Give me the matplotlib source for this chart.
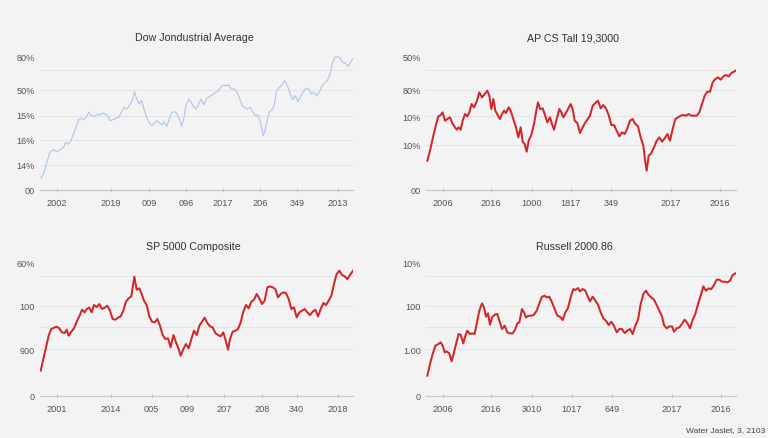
import matplotlib
matplotlib.use("Agg")
import matplotlib.pyplot as plt

plt.rcParams["font.family"] = ["Liberation Sans", "DejaVu Sans"]

W, H = 768, 439
BG = "#f3f3f3"

# ---- Dow (top left) ----
dow_title = "Dow Jondustrial Average"
dow_t = [0.3, 1.2, 2.0, 3.0, 4.0, 5.0, 6.0, 7.0, 7.7, 8.5,
         9.2, 10.0, 10.8, 11.7, 12.5, 13.2, 13.8, 14.6, 15.5, 16.3,
         17.2, 18.0, 18.7, 19.5, 20.2, 21.0, 21.8, 22.8, 23.6, 24.4,
         25.2, 26.0, 26.8, 27.6, 28.4, 29.0, 29.8, 30.5, 31.2, 32.0,
         32.8, 33.6, 34.3, 35.0, 35.8, 36.6, 37.2, 38.0, 38.8, 39.5,
         40.3, 41.0, 41.8, 42.5, 43.2, 43.8, 44.6, 45.4, 46.0, 46.8,
         47.6, 48.3, 49.2, 49.8, 50.5, 51.2, 52.0, 52.8, 53.5, 54.2,
         55.0, 55.8, 56.6, 57.4, 58.2, 59.0, 59.8, 60.6, 61.4, 62.2,
         63.0, 63.8, 64.6, 65.4, 66.0, 66.6, 67.0, 67.5, 68.0, 68.8,
         69.6, 70.2, 71.0, 71.8, 72.6, 73.4, 74.2, 75.0, 75.8, 76.6,
         77.4, 78.2, 79.0, 79.8, 80.6, 81.4, 82.2, 83.0, 83.8, 84.6,
         85.4, 86.2, 87.0, 87.8, 88.5, 89.2, 90.0, 90.8, 91.6, 92.4,
         93.2, 93.9]
dow_v = [6.8, 10.0, 16.4, 22.4, 24.0, 22.8, 24.0, 25.4, 28.4, 27.4,
         28.8, 33.4, 37.4, 42.4, 42.8, 42.0, 43.4, 46.4, 44.4, 44.0,
         45.4, 44.8, 46.0, 45.4, 44.8, 41.4, 42.0, 42.8, 43.4, 46.4,
         49.4, 48.4, 50.4, 53.4, 58.8, 54.4, 51.4, 53.4, 48.4, 43.4,
         40.0, 38.4, 40.0, 41.4, 40.0, 38.8, 40.8, 38.0, 42.4, 46.4,
         46.8, 46.0, 42.4, 38.0, 43.4, 50.4, 54.4, 52.4, 50.0, 48.4,
         51.4, 54.4, 50.8, 54.0, 55.4, 56.4, 57.4, 58.4, 59.4, 61.4,
         62.8, 62.4, 62.8, 60.4, 60.4, 58.8, 55.4, 50.4, 49.4, 48.4,
         49.4, 46.8, 44.4, 44.8, 41.4, 36.4, 32.4, 35.4, 40.4, 46.8,
         48.0, 50.0, 59.4, 61.4, 62.8, 65.4, 62.4, 58.0, 54.0, 56.4,
         52.8, 56.0, 58.8, 60.8, 60.4, 57.4, 58.4, 56.4, 58.8, 62.4,
         64.0, 65.4, 69.4, 76.4, 79.4, 79.8, 79.2, 76.4, 75.8, 74.0,
         76.4, 78.8]
dow_yticks = [0, 15, 30, 45, 60, 80]
dow_ylabels = ["00", "14%", "16%", "15%", "50%", "80%"]
dow_xticks = [5.0, 21.3, 32.7, 43.8, 54.9, 66.0, 77.1, 89.4]
dow_xlabels = ["2002", "2019", "009", "096", "2017", "206", "349", "2013"]

# ---- AP CS (top right) ----
ap_title = "AP CS Tall 19,3000"
ap_t = [0.4, 1.2, 2.2, 3.2, 3.7, 4.4, 5.0, 5.7, 6.4, 7.2,
        8.0, 8.7, 9.2, 9.8, 10.4, 11.0, 11.7, 12.4, 13.0, 13.7,
        14.4, 15.2, 16.0, 16.8, 17.6, 18.4, 19.0, 19.6, 20.2, 20.8,
        21.6, 22.2, 22.8, 23.4, 24.0, 24.8, 25.4, 26.2, 27.0, 27.7,
        28.4, 29.0, 29.6, 30.2, 30.8, 31.6, 32.4, 33.0, 33.6, 34.2,
        35.0, 35.7, 36.4, 37.2, 37.8, 38.4, 39.2, 40.0, 40.6, 41.2,
        41.8, 42.6, 43.4, 44.0, 44.6, 45.4, 46.2, 47.0, 47.8, 48.4,
        49.2, 50.0, 50.8, 51.6, 52.4, 53.2, 54.0, 54.8, 55.6, 56.4,
        57.2, 58.0, 58.8, 59.6, 60.4, 61.2, 62.0, 62.8, 63.6, 64.4,
        65.2, 65.8, 66.2, 66.8, 67.4, 68.4, 69.2, 70.0, 70.8, 71.6,
        72.4, 73.2, 74.0, 74.8, 75.6, 76.4, 77.2, 78.0, 78.8, 79.6,
        80.4, 81.2, 82.0, 82.8, 83.6, 84.4, 85.2, 86.0, 86.8, 87.6,
        88.4, 89.2, 90.0, 90.8, 91.6, 92.4, 93.0]
ap_v = [17.4, 23.4, 32.4, 40.4, 44.0, 44.8, 46.4, 41.4, 42.4, 43.4,
        39.4, 37.4, 36.0, 37.4, 36.0, 41.4, 45.4, 44.0, 46.4, 51.4,
        49.4, 52.8, 58.4, 55.4, 57.4, 59.4, 56.4, 48.4, 54.4, 47.4,
        44.4, 42.4, 45.4, 47.4, 46.0, 49.4, 47.4, 42.4, 37.4, 31.4,
        37.4, 28.8, 27.4, 22.8, 29.4, 32.8, 39.4, 46.4, 52.4, 48.4,
        48.8, 44.8, 40.4, 43.4, 39.4, 36.0, 42.4, 48.4, 46.4, 43.4,
        45.4, 48.4, 51.4, 48.4, 41.4, 40.0, 34.0, 37.4, 40.4, 42.0,
        44.4, 50.4, 52.0, 53.4, 48.8, 50.8, 48.8, 44.8, 38.8, 38.8,
        35.4, 32.0, 34.4, 33.4, 36.8, 41.4, 42.4, 39.4, 38.0, 31.4,
        26.4, 16.4, 11.4, 20.4, 21.4, 25.4, 29.4, 31.4, 28.8, 30.8,
        33.4, 29.4, 36.4, 42.4, 43.4, 44.4, 44.8, 44.4, 45.4, 44.4,
        44.4, 44.4, 46.4, 51.4, 56.4, 58.8, 58.8, 64.4, 66.4, 67.4,
        66.0, 68.0, 68.8, 68.0, 70.0, 70.8, 71.6]
ap_yticks = [0, 27, 44, 60, 80]
ap_ylabels = ["00", "10%", "10%", "80%", "50%"]
ap_xticks = [5.1, 19.5, 31.8, 43.5, 55.5, 73.5, 88.2]
ap_xlabels = ["2006", "2016", "1000", "1817", "349", "2017", "2016"]

# ---- SP (bottom left) ----
sp_title = "SP 5000 Composite"
sp_t = [0.2, 1.0, 1.8, 2.6, 3.4, 4.2, 5.0, 5.8, 6.6, 7.4,
        8.0, 8.6, 9.4, 10.2, 11.0, 11.8, 12.6, 13.4, 14.0, 14.8,
        15.5, 16.2, 17.0, 17.8, 18.6, 19.4, 20.2, 21.0, 21.8, 22.6,
        23.4, 24.2, 25.0, 25.8, 26.6, 27.4, 27.8, 28.3, 29.0, 29.8,
        30.5, 31.2, 32.0, 32.8, 33.6, 34.4, 35.2, 36.0, 36.8, 37.6,
        38.4, 39.2, 40.0, 40.8, 41.6, 42.2, 43.0, 43.8, 44.6, 45.4,
        46.2, 47.0, 47.8, 48.6, 49.4, 50.2, 51.0, 51.8, 52.6, 53.4,
        54.2, 55.0, 55.8, 56.4, 57.0, 57.8, 58.6, 59.4, 60.2, 61.0,
        61.8, 62.6, 63.4, 64.2, 65.0, 65.8, 66.6, 67.4, 68.2, 69.0,
        69.8, 70.6, 71.4, 72.2, 73.0, 73.8, 74.6, 75.4, 76.2, 77.0,
        77.8, 78.6, 79.4, 80.2, 81.0, 81.8, 82.6, 83.4, 84.2, 85.0,
        85.8, 86.6, 87.4, 88.2, 89.0, 89.8, 90.6, 91.4, 92.2, 93.0,
        93.9]
sp_v = [15.0, 22.0, 29.0, 36.0, 40.0, 40.8, 41.4, 40.4, 38.0, 37.6,
        39.6, 36.0, 38.4, 40.4, 44.4, 47.6, 51.6, 50.0, 52.0, 52.8,
        50.0, 54.4, 53.2, 55.0, 52.0, 52.8, 54.0, 51.0, 46.0, 45.6,
        46.8, 47.6, 51.0, 56.4, 58.4, 59.6, 65.0, 71.4, 63.6, 64.4,
        61.0, 57.0, 54.4, 47.6, 44.4, 44.0, 46.0, 42.0, 36.4, 34.0,
        34.4, 29.0, 36.4, 32.0, 28.0, 24.0, 28.0, 31.0, 28.4, 34.0,
        39.0, 36.4, 42.0, 44.4, 46.8, 43.6, 41.6, 41.0, 37.6, 36.4,
        35.6, 38.0, 32.4, 27.6, 34.0, 38.4, 39.0, 40.0, 44.0, 50.4,
        54.4, 52.4, 56.4, 57.6, 61.0, 58.4, 55.0, 57.0, 65.0, 65.6,
        65.0, 64.0, 59.0, 61.0, 62.0, 61.6, 58.0, 52.0, 53.0, 47.0,
        50.0, 51.0, 52.0, 50.0, 48.4, 50.4, 51.6, 47.6, 52.0, 55.6,
        54.4, 57.0, 60.0, 67.0, 73.0, 75.0, 72.4, 71.6, 70.0, 72.4,
        75.0]
sp_yticks = [0, 28, 54, 80]
sp_ylabels = ["0", "900", "100", "60%"]
sp_xticks = [5.0, 21.3, 33.5, 44.1, 55.2, 66.5, 77.0, 89.4]
sp_xlabels = ["2001", "2014", "005", "099", "207", "208", "340", "2018"]

# ---- Russell (bottom right) ----
ru_title = "Russell 2000.86"
ru_t = [0.4, 1.2, 2.0, 2.8, 3.7, 4.4, 5.0, 5.6, 6.2, 7.0,
        7.7, 8.4, 9.2, 9.8, 10.4, 11.2, 11.8, 12.4, 13.2, 14.0,
        14.6, 15.4, 16.0, 16.8, 17.4, 18.0, 18.6, 19.2, 19.8, 20.6,
        21.4, 22.0, 22.8, 23.6, 24.4, 25.2, 26.0, 26.8, 27.4, 28.0,
        28.8, 29.4, 30.0, 30.8, 31.6, 32.4, 33.2, 34.0, 34.8, 35.6,
        36.2, 37.0, 37.8, 38.6, 39.4, 40.2, 41.0, 41.8, 42.6, 43.4,
        44.2, 44.8, 45.6, 46.2, 47.0, 47.8, 48.4, 49.2, 50.0, 50.8,
        51.6, 52.4, 53.2, 54.0, 54.8, 55.6, 56.4, 57.2, 58.0, 58.8,
        59.6, 60.4, 61.2, 62.0, 62.8, 63.6, 64.4, 65.2, 66.0, 66.8,
        67.6, 68.4, 69.2, 70.0, 70.8, 71.4, 72.2, 73.0, 73.8, 74.4,
        75.2, 76.0, 76.8, 77.6, 78.4, 79.2, 80.0, 80.8, 81.6, 82.4,
        83.2, 84.0, 84.8, 85.6, 86.4, 87.2, 88.0, 88.8, 89.6, 90.4,
        91.2, 92.0, 93.0]
ru_v = [12.0, 19.0, 25.0, 30.0, 31.0, 32.0, 30.0, 26.0, 26.6, 25.4,
        20.6, 26.0, 32.6, 37.0, 36.6, 31.4, 36.0, 39.0, 37.0, 37.4,
        37.0, 45.0, 51.0, 55.4, 53.0, 47.4, 49.4, 42.6, 47.0, 48.6,
        49.0, 45.0, 40.0, 42.0, 38.0, 37.4, 37.4, 40.0, 43.4, 44.0,
        52.0, 50.0, 47.0, 48.0, 48.0, 48.6, 51.0, 55.4, 59.4, 60.0,
        59.0, 59.4, 56.0, 52.0, 48.0, 47.4, 45.4, 50.0, 52.6, 59.0,
        64.0, 63.4, 64.6, 62.6, 64.0, 63.0, 60.0, 56.6, 59.4, 57.0,
        54.6, 50.0, 46.4, 45.0, 42.4, 44.4, 42.0, 38.0, 40.0, 40.0,
        37.6, 39.0, 40.0, 37.0, 42.0, 45.6, 55.0, 61.0, 63.0, 60.4,
        59.0, 57.6, 54.4, 51.0, 47.6, 42.4, 40.4, 41.6, 41.6, 38.4,
        40.4, 41.0, 43.0, 45.6, 43.6, 40.4, 45.6, 49.0, 55.0, 60.0,
        65.6, 63.0, 64.4, 64.0, 66.4, 69.6, 69.6, 68.4, 68.4, 68.0,
        69.0, 72.4, 73.6]
ru_yticks = [0, 28, 54, 80]
ru_ylabels = ["0", "1.00", "100", "10%"]
ru_xticks = [5.1, 19.4, 31.8, 43.8, 55.7, 73.8, 88.4]
ru_xlabels = ["2006", "2016", "3010", "1017", "649", "2017", "2016"]

footer = "Water Jaslet, 3, 2103"

BLUE = "#adc5ea"
RED = "#d3262a"
YTOP = 86
PX_PER_UNIT = 5 / 3


def add_panel(fig, left, right, bottom, xmax, t, v, color, lw,
              yticks, ylabels, xticks, xlabels, grid):
    height = YTOP * PX_PER_UNIT
    ax = fig.add_axes([left / W, (H - bottom) / H, (right - left) / W, height / H])
    ax.set_facecolor(BG)
    ax.set_xlim(0, xmax)
    ax.set_ylim(0, YTOP)
    for g in grid:
        ax.axhline(g, color="#e4e4e4", lw=0.8, zorder=0)
    ax.plot(t, v, color=color, lw=lw, solid_joinstyle="round", zorder=3)
    for side in ["top", "right", "left"]:
        ax.spines[side].set_visible(False)
    ax.spines["bottom"].set_color("#c8c8c8")
    ax.spines["bottom"].set_linewidth(0.9)
    ax.set_yticks(yticks, ylabels)
    ax.tick_params(axis="y", length=0, pad=3.6, labelsize=6.6, labelcolor="#555555")
    ax.set_xticks(xticks, xlabels)
    ax.tick_params(axis="x", direction="inout", length=3, width=0.8, color="#c0c0c0",
                   pad=4.5, labelsize=6.6, labelcolor="#555555")
    return ax


fig = plt.figure(figsize=(W / 100, H / 100), dpi=100, facecolor=BG)

add_panel(fig, 40, 353, 190.7, 93.9, dow_t, dow_v, BLUE, 0.8,
          dow_yticks, dow_ylabels, dow_xticks, dow_xlabels, [15, 30, 44, 60, 72])
add_panel(fig, 426, 736, 190.7, 93.0, ap_t, ap_v, RED, 1.45,
          ap_yticks, ap_ylabels, ap_xticks, ap_xlabels, [27, 44, 60, 72])
add_panel(fig, 40, 353, 396.7, 93.9, sp_t, sp_v, RED, 1.45,
          sp_yticks, sp_ylabels, sp_xticks, sp_xlabels, [28, 41, 54, 72])
add_panel(fig, 426, 736, 396.7, 93.0, ru_t, ru_v, RED, 1.45,
          ru_yticks, ru_ylabels, ru_xticks, ru_xlabels, [28, 41, 54, 72])

titles = [(dow_title, 194.5, 38.3), (ap_title, 572.7, 38.3),
          (sp_title, 193.0, 246.7), (ru_title, 574.5, 246.7)]
for text, x, y in titles:
    fig.text(x / W, 1 - y / H, text, ha="center", va="center",
             fontsize=7.7, color="#333333")

fig.text(765 / W, 1 - 431 / H, footer, ha="right", va="center",
         fontsize=6, color="#444444")

fig.savefig("out.png", dpi=100, facecolor=BG)
